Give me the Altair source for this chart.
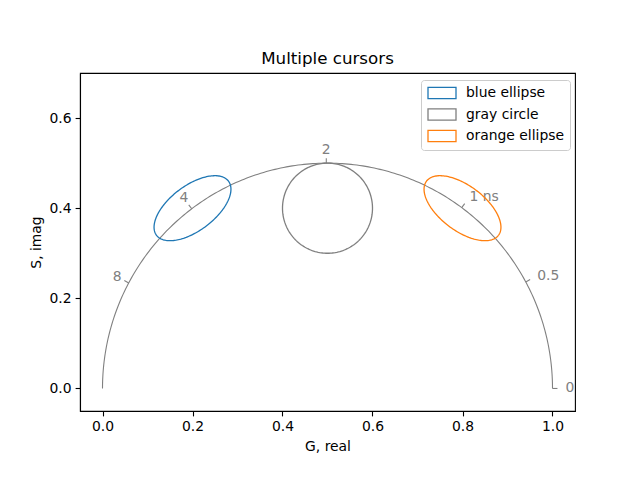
import math
import numpy as np
import pandas as pd
import altair as alt

# ---- data ----
lifetimes = [0, 0.5, 1, 2, 4, 8]
lifetime_labels = ["0", "0.5", "1 ns", "2", "4", "8"]
frequency_mhz = 80.0

cursor_names = ["blue ellipse", "gray circle", "orange ellipse"]
cursor_g = [0.2, 0.5, 0.8]
cursor_s = [0.4, 0.4, 0.4]
cursor_radius = [0.1, 0.1, 0.1]
cursor_radius_minor = [0.05, 0.1, 0.05]
cursor_colors = ["#1f77b4", "#7f7f7f", "#ff7f0e"]

x_ticks = [0.0, 0.2, 0.4, 0.6, 0.8, 1.0]
y_ticks = [0.0, 0.2, 0.4, 0.6]

# ---- geometry ----
omega = 2 * math.pi * frequency_mhz * 1e-3
semi_t = np.linspace(0, math.pi, 241)
semi = pd.DataFrame({"g": 0.5 + 0.5 * np.cos(semi_t), "s": 0.5 * np.sin(semi_t), "o": np.arange(len(semi_t))})

tick_rows = []
TICK = 0.011
LAB = 0.029
for tau, lab in zip(lifetimes, lifetime_labels):
    wt = omega * tau
    g = 1 / (1 + wt * wt)
    s = wt / (1 + wt * wt)
    ux, uy = (g - 0.5) / 0.5, s / 0.5
    n = math.hypot(ux, uy)
    ux, uy = ux / n, uy / n
    tick_rows.append({"g": g, "s": s, "g2": g + ux * TICK, "s2": s + uy * TICK,
                      "lg": g + ux * LAB, "ls": s + uy * LAB, "label": lab,
                      "side": "left" if ux > 0.1 else "center"})
ticks = pd.DataFrame(tick_rows)

ell_rows = []
tt = np.linspace(0, 2 * math.pi, 181)
for name, cx, cy, a, b in zip(cursor_names, cursor_g, cursor_s, cursor_radius, cursor_radius_minor):
    th = math.atan2(cy, cx - 0.5) - math.pi / 2
    for i, t in enumerate(tt):
        x = cx + a * math.cos(t) * math.cos(th) - b * math.sin(t) * math.sin(th)
        y = cy + a * math.cos(t) * math.sin(th) + b * math.sin(t) * math.cos(th)
        ell_rows.append({"g": x, "s": y, "o": i, "cursor": name})
ell = pd.DataFrame(ell_rows)

xs = alt.Scale(domain=[-0.05, 1.05], nice=False, zero=False)
ys = alt.Scale(domain=[-0.05, 0.7], nice=False, zero=False)
X = alt.X("g:Q", scale=xs, title="G, real",
          axis=alt.Axis(values=x_ticks, format=".1f"))
Y = alt.Y("s:Q", scale=ys, title="S, imag",
          axis=alt.Axis(values=y_ticks, format=".1f"))

GRAY = "#808080"
semi_line = alt.Chart(semi).mark_line(color=GRAY, strokeWidth=1.1).encode(x=X, y=Y, order="o:Q")
tick_marks = alt.Chart(ticks).mark_rule(color=GRAY, strokeWidth=1.1).encode(
    x="g:Q", y="s:Q", x2="g2:Q", y2="s2:Q")
lab_left = alt.Chart(ticks).transform_filter("datum.side == 'left'").mark_text(
    align="left", baseline="middle", color=GRAY, fontSize=13.9, font="DejaVu Sans").encode(
    x="lg:Q", y="ls:Q", text="label:N")
lab_center = alt.Chart(ticks).transform_filter("datum.side == 'center'").mark_text(
    align="center", baseline="middle", color=GRAY, fontSize=13.9, font="DejaVu Sans").encode(
    x="lg:Q", y="ls:Q", text="label:N")

cursors = alt.Chart(ell).mark_line(strokeWidth=1.3).encode(
    x="g:Q", y="s:Q", order="o:Q",
    color=alt.Color("cursor:N", scale=alt.Scale(domain=cursor_names, range=cursor_colors),
                    legend=alt.Legend(title=None, orient="none", legendX=341, legendY=7,
                                      symbolType="M-2,-0.8H2V0.8H-2Z", symbolSize=196,
                                      symbolStrokeWidth=1.3, symbolFillColor="transparent",
                                      symbolOffset=8,
                                      labelFontSize=13.9, labelFont="DejaVu Sans",
                                      labelOffset=16, rowPadding=3.5, padding=5,
                                      strokeColor="#cccccc", cornerRadius=3,
                                      fillColor="white")))

chart = alt.layer(semi_line, tick_marks, lab_left, lab_center, cursors).properties(
    width=495, height=338,
    title=alt.Title("Multiple cursors", fontSize=16.7, font="DejaVu Sans", fontWeight="normal",
                    offset=5, color="black"),
    autosize=alt.AutoSizeParams(type="none"),
    padding={"left": 72, "top": 65, "right": 50, "bottom": 60},
).configure_axis(
    grid=False, domainColor="black", domainWidth=1.1, tickColor="black", tickWidth=1.1,
    tickSize=4.9, labelFontSize=13.9, titleFontSize=13.9, labelFont="DejaVu Sans",
    titleFont="DejaVu Sans", labelColor="black", titleColor="black", titleFontWeight="normal",
    labelPadding=4, titlePadding=6,
).configure_view(stroke="black", strokeWidth=1.1)

chart.save("out.html", embed_options={"renderer": "svg", "actions": False})
